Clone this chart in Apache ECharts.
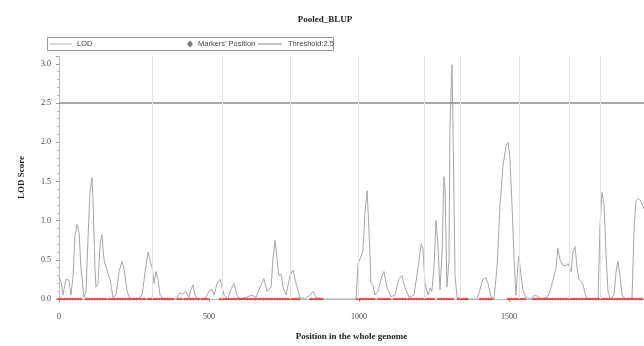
<!DOCTYPE html>
<html>
<head>
<meta charset="utf-8">
<script src="https://cdn.jsdelivr.net/npm/echarts@6.0.0/dist/echarts.min.js"></script>
<style>
  html, body { margin: 0; padding: 0; background: #fff; }
  #chart { width: 644px; height: 346px; }
</style>
</head>
<body>
<div id="chart"></div>
<script>
// LOD curve, position / score
var lodPos = [0,7,13,23,33,40,47,53,60,67,73,83,90,97,103,110,113,120,123,130,137,143,150,157,163,170,180,190,200,210,217,227,237,
  263,277,287,297,303,310,317,323,330,337,347,390,403,413,423,433,440,447,453,463,487,500,510,517,527,537,550,563,573,583,593,603,
  623,643,657,670,683,693,707,713,720,727,733,740,747,757,770,780,790,803,820,837,847,857,870,990,
  997,1003,1013,1020,1027,1033,1040,1047,1053,1063,1077,1083,1093,1107,1120,1133,1143,1153,1167,1183,1197,1207,1213,1220,1230,
  1237,1243,1250,1257,1263,1270,1277,1283,1287,1293,1300,1303,1310,1313,1320,1327,1337,1393,1403,1413,1423,1430,1440,1450,
  1460,1470,1480,1490,1497,1503,1510,1517,1523,1530,1533,1540,1547,1557,1570,1587,1597,1607,1627,1637,1647,1657,1663,1670,
  1680,1690,1697,1707,1713,1720,1727,1733,1740,1747,1757,1770,1797,1803,1810,1817,1823,1830,1837,1850,1857,1863,1870,1877,
  1887,1910,1917,1923,1930,1940,1950];
var lodVal = [0.28,0.22,0.05,0.25,0.24,0.05,0.3,0.8,0.95,0.85,0.4,0.02,0.1,0.8,1.35,1.55,1.3,0.4,0.15,0.2,0.7,0.82,0.5,0.4,0.42,0.25,0.02,0.05,0.35,0.48,0.38,0.1,0.0,
  0.0,0.05,0.35,0.6,0.5,0.4,0.2,0.35,0.25,0.05,0.0,0.0,0.08,0.06,0.1,0.02,0.12,0.18,0.05,0.0,0.0,0.1,0.12,0.05,0.2,0.25,0.05,0.0,0.12,0.2,0.05,0.0,
  0.02,0.05,0.02,0.15,0.26,0.1,0.15,0.5,0.75,0.5,0.3,0.32,0.15,0.05,0.3,0.37,0.2,0.02,0.0,0.05,0.1,0.02,0.0,0.0,
  0.45,0.45,0.6,1.1,1.38,0.9,0.2,0.18,0.05,0.1,0.3,0.35,0.15,0.03,0.05,0.25,0.3,0.15,0.02,0.05,0.4,0.7,0.65,0.2,0.05,
  0.14,0.1,0.4,1.0,0.7,0.12,0.6,1.56,1.4,0.15,0.5,2.2,2.99,2.3,0.3,0.02,0.0,0.0,0.12,0.25,0.27,0.2,0.03,0.0,
  0.4,1.2,1.7,1.95,2.0,1.8,1.2,0.5,0.05,0.45,0.55,0.3,0.1,0.02,0.0,0.05,0.03,0.0,0.02,0.1,0.25,0.4,0.65,0.5,
  0.43,0.42,0.45,0.35,0.6,0.67,0.4,0.25,0.22,0.18,0.02,0.0,0.0,0.9,1.36,1.2,0.6,0.1,0.0,0.05,0.35,0.48,0.3,0.05,
  0.0,0.0,0.9,1.25,1.28,1.25,1.15];

// marker positions along the genome
var markerPos = [0,9,18,27,36,45,54,63,72,92,101,110,119,128,137,146,155,168,177,186,195,204,213,222,231,240,249,258,267,276,285,
  298,307,316,325,334,343,352,361,370,379,398,407,420,429,438,447,456,465,478,487,496,
  538,547,556,565,574,583,592,601,610,619,628,637,646,655,664,673,682,691,700,709,718,727,736,745,754,763,772,781,790,799,
  840,849,858,867,876,
  996,1005,1014,1023,1032,1041,1050,1066,1075,1084,1093,1102,1118,1127,1136,1145,1154,1166,1175,1184,1193,1202,1211,1220,1229,1238,1247,
  1266,1275,1284,1293,1302,1311,1332,1341,1350,1359,1405,1414,1423,1432,1441,1498,1507,1516,1525,1534,1543,1552,
  1582,1591,1600,1609,1618,1627,1636,1645,1654,1663,1672,1681,1690,1699,1708,1717,1726,1735,1744,1753,1762,1771,1780,1789,1798,
  1807,1816,1825,1834,1843,1852,1861,1870,1879,1888,1897,1906,1915,1924,1933,1942];

// chromosome boundaries
var chromBounds = [310,543,770,998,1217,1337,1533,1700,1803];

var threshold = 2.5;
var xMax = 1950;
var yTicks = [0,0.5,1,1.5,2,2.5,3];

var serif = '"Liberation Serif","DejaVu Serif",serif';
var sans = '"Liberation Sans","DejaVu Sans",sans-serif';
var lineIcon = 'path://M0,0L24,0L24,1L0,1Z';

var chart = echarts.init(document.getElementById('chart'));
var option = {
  animation: false,
  backgroundColor: '#fff',
  title: {
    text: 'Pooled_BLUP',
    left: 320,
    textAlign: 'center',
    top: 10,
    textStyle: { fontFamily: serif, fontSize: 9, fontWeight: 'bold', color: '#222' }
  },
  graphic: [{
    type: 'rect',
    shape: { x: 47.5, y: 37.5, width: 286, height: 13 },
    style: { fill: 'none', stroke: '#999', lineWidth: 1 }
  }],
  legend: [
    {
      data: ['LOD'], left: 50, top: 40, itemWidth: 22, itemHeight: 1, padding: 0, icon: lineIcon,
      textStyle: { fontFamily: sans, fontSize: 7.5, color: '#444' }
    },
    {
      data: [{ name: "Markers' Position", itemStyle: { color: '#555' } }], left: 187, top: 40,
      itemWidth: 6, itemHeight: 7, padding: 0, icon: 'diamond',
      textStyle: { fontFamily: sans, fontSize: 7.5, color: '#444' }
    },
    {
      data: ['Threshold:2.5'], left: 258, top: 40, itemWidth: 26, itemHeight: 1, padding: 0, icon: lineIcon,
      textStyle: { fontFamily: sans, fontSize: 7.5, color: '#444' }
    }
  ],
  grid: { left: 59, right: 0, top: 56, bottom: 45 },
  xAxis: {
    type: 'value',
    min: 0, max: xMax, interval: 500,
    name: 'Position in the whole genome',
    nameLocation: 'middle',
    nameGap: 33,
    nameTextStyle: { fontFamily: serif, fontSize: 9, fontWeight: 'bold', color: '#222' },
    axisLine: { lineStyle: { color: '#bbb' } },
    axisTick: { show: true, length: 3, lineStyle: { color: '#999' } },
    axisLabel: {
      showMaxLabel: false, margin: 14, fontFamily: serif, fontSize: 8, color: '#444',
      formatter: function (v) { return String(v); }
    },
    splitLine: { show: false }
  },
  yAxis: {
    type: 'value',
    min: 0, max: 3.1, interval: 0.5,
    name: 'LOD Score',
    nameLocation: 'middle',
    nameGap: 33,
    nameTextStyle: { fontFamily: serif, fontSize: 9, fontWeight: 'bold', color: '#222' },
    axisLine: { show: true, lineStyle: { color: '#bbb' } },
    axisTick: { show: true, length: 3, lineStyle: { color: '#999' } },
    minorTick: { show: true, splitNumber: 5, length: 2, lineStyle: { color: '#bbb' } },
    axisLabel: {
      showMaxLabel: false, margin: 8, fontFamily: serif, fontSize: 8, color: '#444',
      formatter: function (v) { return yTicks.indexOf(v) >= 0 ? v.toFixed(1) : ''; }
    },
    splitLine: { show: false }
  },
  series: [
    {
      name: 'LOD',
      type: 'line',
      symbol: 'none',
      color: '#a6a6a6',
      lineStyle: { color: '#a6a6a6', width: 1 },
      data: lodPos.map(function (x, i) { return [x, lodVal[i]]; }),
      markLine: {
        silent: true,
        symbol: 'none',
        label: { show: false },
        lineStyle: { color: '#e3e3e3', type: 'solid', width: 1 },
        data: chromBounds.map(function (v) { return { xAxis: v }; })
      },
      z: 2
    },
    {
      name: "Markers' Position",
      type: 'scatter',
      symbol: 'diamond',
      symbolSize: [5, 3],
      itemStyle: { color: '#d6393f' },
      data: markerPos.map(function (x) { return [x, 0]; }),
      z: 3
    },
    {
      name: 'Threshold:2.5',
      type: 'line',
      symbol: 'none',
      color: '#8a8a8a',
      lineStyle: { color: '#8a8a8a', width: 1.5 },
      data: [[0, threshold], [xMax, threshold]],
      z: 2
    }
  ]
};
chart.setOption(option);
</script>
</body>
</html>
